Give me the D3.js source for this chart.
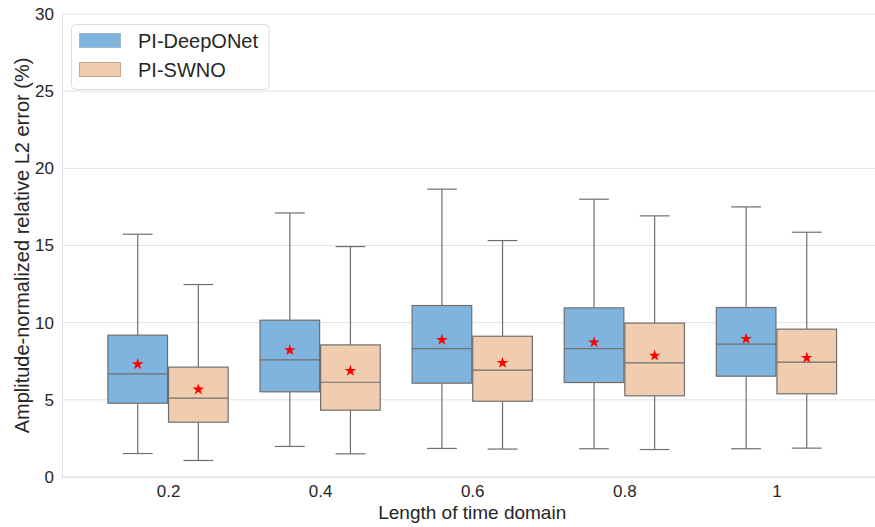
<!DOCTYPE html>
<html>
<head>
<meta charset="utf-8">
<script src="https://cdn.jsdelivr.net/npm/d3@7"></script>
<style>
  html, body { margin: 0; padding: 0; background: #fff; }
  svg { display: block; font-family: "Liberation Sans", Arial, sans-serif; }
</style>
</head>
<body>
<svg id="chart" width="875" height="527"></svg>
<script>
// Categories on the x axis (length of time domain)
const categories = ["0.2", "0.4", "0.6", "0.8", "1"];
const seriesNames = ["PI-DeepONet", "PI-SWNO"];
const yTicks = [0, 5, 10, 15, 20, 25, 30];

// Box statistics per category: lower whisker, Q1, median, Q3, upper whisker, mean
const deeponetLow    = [1.52, 1.98, 1.85, 1.83, 1.83];
const deeponetQ1     = [4.78, 5.52, 6.08, 6.12, 6.53];
const deeponetMedian = [6.68, 7.59, 8.32, 8.32, 8.61];
const deeponetQ3     = [9.19, 10.16, 11.11, 10.96, 10.98];
const deeponetHigh   = [15.73, 17.11, 18.65, 18.00, 17.50];
const deeponetMean   = [7.31, 8.22, 8.89, 8.73, 8.95];

const swnoLow    = [1.07, 1.50, 1.81, 1.78, 1.87];
const swnoQ1     = [3.55, 4.33, 4.91, 5.26, 5.39];
const swnoMedian = [5.11, 6.14, 6.92, 7.40, 7.44];
const swnoQ3     = [7.12, 8.56, 9.12, 9.97, 9.58];
const swnoHigh   = [12.47, 14.93, 15.32, 16.92, 15.86];
const swnoMean   = [5.67, 6.88, 7.40, 7.87, 7.72];

const colors = ["#7fb4de", "#f0cdae"];
const edge = "#6f6f6f";

const series = [
  { name: seriesNames[0], low: deeponetLow, q1: deeponetQ1, med: deeponetMedian, q3: deeponetQ3, high: deeponetHigh, mean: deeponetMean },
  { name: seriesNames[1], low: swnoLow, q1: swnoQ1, med: swnoMedian, q3: swnoQ3, high: swnoHigh, mean: swnoMean }
];

const svg = d3.select("#chart");
const plotLeft = 62, plotRight = 875, plotTop = 14, plotBottom = 477;

// Category index scale (axis view extends slightly past the outer groups)
const x = d3.scaleLinear().domain([-0.697, 4.648]).range([plotLeft, plotRight]);
const y = d3.scaleLinear().domain([0, 30]).range([plotBottom, plotTop]);
const band = x(1) - x(0);
const boxW = band * 0.392;
const capW = boxW * 0.5;

// Horizontal grid
svg.append("g").selectAll("line").data(yTicks).join("line")
  .attr("x1", plotLeft).attr("x2", plotRight)
  .attr("y1", d => y(d)).attr("y2", d => y(d))
  .attr("stroke", "#e2e2e2").attr("stroke-width", 1);

// Left and bottom spines
svg.append("line").attr("x1", plotLeft + 0.5).attr("x2", plotLeft + 0.5).attr("y1", plotTop).attr("y2", plotBottom)
  .attr("stroke", "#e2e2e2");
svg.append("line").attr("x1", plotLeft).attr("x2", plotRight).attr("y1", plotBottom).attr("y2", plotBottom)
  .attr("stroke", "#e2e2e2");

// Y axis tick labels
const yAxis = d3.axisLeft(y).tickValues(yTicks).tickSize(0).tickPadding(8).tickFormat(d3.format("d"));
const gy = svg.append("g").attr("transform", `translate(${plotLeft},0)`).call(yAxis);
gy.select(".domain").remove();
gy.selectAll("text").attr("font-size", 17).attr("fill", "#262626")
  .attr("font-family", "Liberation Sans, Arial, sans-serif");

// X axis tick labels
const xAxis = d3.axisBottom(x).tickValues(d3.range(categories.length)).tickSize(0).tickPadding(8)
  .tickFormat(i => categories[i]);
const gx = svg.append("g").attr("transform", `translate(0,${plotBottom})`).call(xAxis);
gx.select(".domain").remove();
gx.selectAll("text").attr("font-size", 17).attr("fill", "#262626")
  .attr("font-family", "Liberation Sans, Arial, sans-serif");

// Axis titles
svg.append("text").attr("x", x(2)).attr("y", 519)
  .attr("text-anchor", "middle").attr("font-size", 19).attr("fill", "#262626")
  .text("Length of time domain");
svg.append("text").attr("transform", `translate(29,${(plotTop + plotBottom) / 2}) rotate(-90)`)
  .attr("text-anchor", "middle").attr("font-size", 20).attr("fill", "#262626")
  .text("Amplitude-normalized relative L2 error (%)");

// Boxes
series.forEach((s, si) => {
  const g = svg.append("g");
  const offset = si === 0 ? -0.5 - boxW / 2 : 0.5 + boxW / 2;
  categories.forEach((c, i) => {
    const cx = x(i) + offset;
    // whiskers
    g.append("line").attr("x1", cx).attr("x2", cx).attr("y1", y(s.q3[i])).attr("y2", y(s.high[i]))
      .attr("stroke", edge).attr("stroke-width", 1.2);
    g.append("line").attr("x1", cx).attr("x2", cx).attr("y1", y(s.q1[i])).attr("y2", y(s.low[i]))
      .attr("stroke", edge).attr("stroke-width", 1.2);
    g.append("line").attr("x1", cx - capW / 2).attr("x2", cx + capW / 2)
      .attr("y1", y(s.high[i])).attr("y2", y(s.high[i])).attr("stroke", edge).attr("stroke-width", 1.2);
    g.append("line").attr("x1", cx - capW / 2).attr("x2", cx + capW / 2)
      .attr("y1", y(s.low[i])).attr("y2", y(s.low[i])).attr("stroke", edge).attr("stroke-width", 1.2);
    // box
    g.append("rect").attr("x", cx - boxW / 2).attr("width", boxW)
      .attr("y", y(s.q3[i])).attr("height", y(s.q1[i]) - y(s.q3[i]))
      .attr("fill", colors[si]).attr("stroke", edge).attr("stroke-width", 1.2);
    // median
    g.append("line").attr("x1", cx - boxW / 2).attr("x2", cx + boxW / 2)
      .attr("y1", y(s.med[i])).attr("y2", y(s.med[i])).attr("stroke", edge).attr("stroke-width", 1.2);
    // mean marker
    g.append("path").attr("d", d3.symbol(d3.symbolStar, 42)())
      .attr("transform", `translate(${cx},${y(s.mean[i])})`).attr("fill", "#ff0000");
  });
});

// Legend
const lg = svg.append("g");
lg.append("rect").attr("x", 71.5).attr("y", 24.5).attr("width", 197.5).attr("height", 65)
  .attr("rx", 4).attr("fill", "#fff").attr("fill-opacity", 0.8).attr("stroke", "#dcdcdc");
seriesNames.forEach((n, i) => {
  const yy = 33.5 + i * 29;
  lg.append("rect").attr("x", 79.5).attr("y", yy).attr("width", 41).attr("height", 14)
    .attr("fill", colors[i]).attr("stroke", i === 0 ? "#9bb8d3" : "#c9a98e").attr("stroke-width", 1);
  lg.append("text").attr("x", 138).attr("y", yy + 14.5).attr("font-size", 20).attr("fill", "#262626").text(n);
});
</script>
</body>
</html>
